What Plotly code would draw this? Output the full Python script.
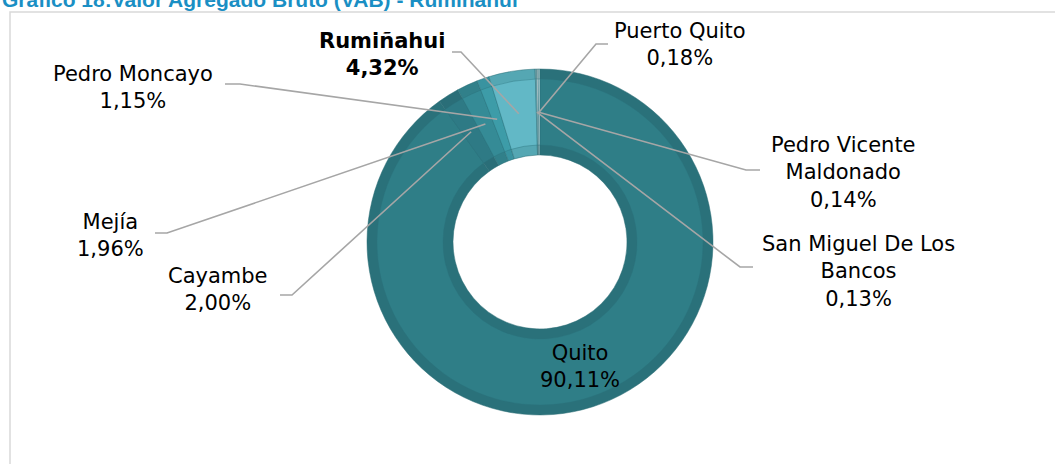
import math
import plotly.graph_objects as go

# ---------------- data ----------------
municipios = ["Quito", "Cayambe", "Mejía", "Pedro Moncayo", "Rumiñahui",
              "San Miguel De Los Bancos", "Pedro Vicente Maldonado", "Puerto Quito"]
vab_pct = [90.11, 2.00, 1.96, 1.15, 4.32, 0.13, 0.14, 0.18]
label_text = ["Quito", "Cayambe", "Mejía", "Pedro Moncayo", "Rumiñahui",
              "San Miguel De Los<br>Bancos", "Pedro Vicente<br>Maldonado", "Puerto Quito"]
title_text = "Gráfico 18:Valor Agregado Bruto (VAB) - Rumiñahui"

face_colors = ["#2F7E87", "#2E7A85", "#358B96", "#3D9CA8", "#62B8C6",
               "#7FB3BB", "#D3DDDF", "#A9C9CE"]
edge_colors = ["#2A717A", "#2A6E78", "#31808A", "#3993A0", "#55A7B3",
               "#74A9B1", "#C4D0D3", "#9DBEC3"]

# ---------------- layout geometry (pixels) ----------------
W, H = 1055, 464
CX, CY = 540, 242
R_OUT, R_HOLE = 173, 87
BEVEL = 10

def X(px):
    return px / W

def Y(py):
    return 1 - py / H

def dom(r):
    return dict(x=[X(CX - r), X(CX + r)], y=[Y(CY + r), Y(CY - r)])

fig = go.Figure()
fig.add_trace(go.Pie(
    labels=municipios, values=vab_pct, sort=False, direction="clockwise", rotation=0,
    hole=R_HOLE / R_OUT, domain=dom(R_OUT), textinfo="none", hoverinfo="label+percent",
    marker=dict(colors=edge_colors, line=dict(color="#2A6C75", width=0.5)),
    showlegend=False))
r_in = R_OUT - BEVEL
fig.add_trace(go.Pie(
    labels=municipios, values=vab_pct, sort=False, direction="clockwise", rotation=0,
    hole=(R_HOLE + BEVEL) / r_in, domain=dom(r_in), textinfo="none", hoverinfo="skip",
    marker=dict(colors=face_colors, line=dict(color="#2C727B", width=0.4)),
    showlegend=False))

# label positions (text centre) and stub segments (pixels)
label_pos = {
    "Quito": (580, 366),
    "Cayambe": (218, 289),
    "Mejía": (110, 236),
    "Pedro Moncayo": (133, 87),
    "Rumiñahui": (382, 54),
    "San Miguel De Los Bancos": (858, 271),
    "Pedro Vicente Maldonado": (843, 173),
    "Puerto Quito": (680, 45),
}
stubs = {
    "Cayambe": ((280, 295), (292, 295)),
    "Mejía": ((155, 233), (167, 233)),
    "Pedro Moncayo": ((225, 84), (240, 84)),
    "Rumiñahui": ((452, 52), (461, 52)),
    "San Miguel De Los Bancos": ((753, 267), (740, 267)),
    "Pedro Vicente Maldonado": ((760, 170), (746, 170)),
    "Puerto Quito": ((608, 44), (596, 44)),
}

total = sum(vab_pct)
cum = 0.0
r_mid = (R_OUT + R_HOLE) / 2
shapes = []
annotations = []
for name, txt, v in zip(municipios, label_text, vab_pct):
    mid = (cum + v / 2) / total * 2 * math.pi
    cum += v
    ax = CX + r_mid * math.sin(mid)
    ay = CY - r_mid * math.cos(mid)
    pct = f"{v:.2f}".replace(".", ",") + "%"
    body = f"{txt}<br>{pct}"
    if name == "Rumiñahui":
        body = f"<b>{body}</b>"
    lx, ly = label_pos[name]
    annotations.append(dict(
        x=X(lx), y=Y(ly), xref="paper", yref="paper", text=body, showarrow=False,
        xanchor="center", yanchor="middle", align="center",
        font=dict(family="DejaVu Sans", size=21, color="#000000")))
    if name in stubs:
        (x0, y0), (x1, y1) = stubs[name]
        path = f"M {X(x0)} {Y(y0)} L {X(x1)} {Y(y1)} L {X(ax)} {Y(ay)}"
        shapes.append(dict(type="path", xref="paper", yref="paper", path=path,
                           line=dict(color="#A6A6A6", width=1.6)))

# panel border (left + top)
shapes.append(dict(type="rect", xref="paper", yref="paper",
                   x0=X(10), x1=X(W + 10), y0=Y(H + 10), y1=Y(12),
                   line=dict(color="#D9D9D9", width=1.5), layer="below"))

annotations.append(dict(
    x=X(0), y=Y(13), xref="paper", yref="paper", text=f"<b>{title_text}</b>",
    showarrow=False, xanchor="left", yanchor="bottom",
    font=dict(family="Liberation Sans", size=21, color="#1A8FC4")))

fig.update_layout(
    width=W, height=H, margin=dict(l=0, r=0, t=0, b=0),
    paper_bgcolor="white", plot_bgcolor="white",
    shapes=shapes, annotations=annotations)

fig.write_html("out.html", config={"displayModeBar": False},
               post_script="document.body.style.margin='0';document.body.style.overflow='hidden';")
